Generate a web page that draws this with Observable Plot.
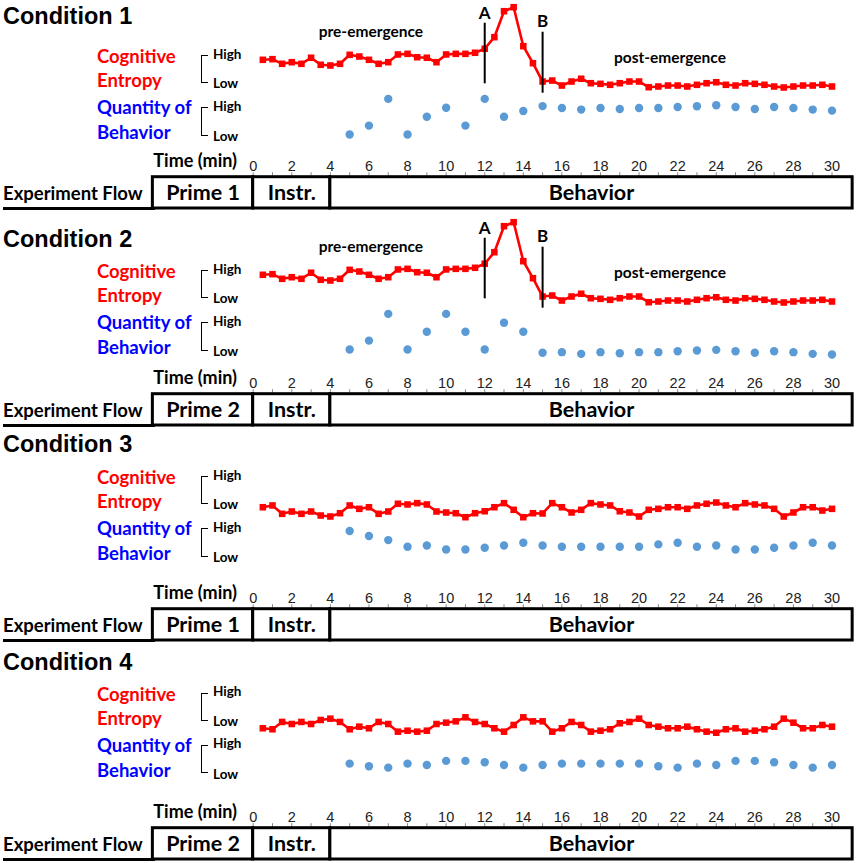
<!DOCTYPE html>
<html>
<head>
<meta charset="utf-8">
<script src="https://cdn.jsdelivr.net/npm/d3@7"></script>
<script src="https://cdn.jsdelivr.net/npm/@observablehq/plot@0.6"></script>
<style>
  html, body { margin: 0; padding: 0; background: #fff; }
  #fig { position: relative; width: 856px; height: 863px; overflow: hidden; background: #fff; font-family: Lato, "Open Sans", sans-serif; }
  #fig svg { position: absolute; left: 0; top: 0; }
  .lab { position: absolute; line-height: 1; white-space: nowrap; transform: translateY(-50%); }
  .brk { position: absolute; border: 1.6px solid #000; border-right: none; width: 7px; box-sizing: border-box; }
</style>
</head>
<body>
<div id="fig"></div>
<script>
// ---------------- data ----------------
const conditionTitles = ["Condition 1", "Condition 2", "Condition 3", "Condition 4"];
const primeLabels = ["Prime 1", "Prime 2", "Prime 1", "Prime 2"];
const hasEmergence = [true, true, false, false];

const entropyTimes = [0.5, 1, 1.5, 2, 2.5, 3, 3.5, 4, 4.5, 5, 5.5, 6, 6.5, 7, 7.5, 8, 8.5, 9, 9.5, 10,
  10.5, 11, 11.5, 12, 12.5, 13, 13.5, 14, 14.5, 15, 15.5, 16, 16.5, 17, 17.5, 18, 18.5, 19, 19.5, 20,
  20.5, 21, 21.5, 22, 22.5, 23, 23.5, 24, 24.5, 25, 25.5, 26, 26.5, 27, 27.5, 28, 28.5, 29, 29.5, 30];
const behaviorTimes = [5, 6, 7, 8, 9, 10, 11, 12, 13, 14, 15, 16, 17, 18, 19, 20, 21, 22, 23, 24, 25, 26, 27, 28, 29, 30];

// Cognitive entropy (Low = 1, High = 4)
const entropyC1 = [3.55, 3.62, 3.10, 3.28, 3.10, 3.78, 2.99, 2.91, 3.10, 4.11,
  3.92, 3.55, 3.10, 3.28, 4.15, 4.22, 3.84, 3.78, 3.28, 4.15,
  4.22, 4.22, 4.34, 4.79, 6.09, 9.01, 9.46, 5.08, 3.17, 1.11,
  1.22, 0.66, 1.11, 1.42, 0.92, 0.85, 0.74, 0.92, 1.11, 1.11,
  0.47, 0.55, 0.66, 0.66, 0.55, 0.74, 0.92, 1.03, 0.74, 0.66,
  0.92, 0.85, 0.74, 0.55, 0.44, 0.55, 0.66, 0.66, 0.74, 0.55];
const entropyC2 = [3.55, 3.62, 3.10, 3.28, 3.10, 3.78, 2.99, 2.91, 3.10, 4.11,
  3.92, 3.55, 3.10, 3.28, 4.15, 4.22, 3.84, 3.78, 3.28, 4.15,
  4.22, 4.22, 4.34, 4.79, 6.09, 9.01, 9.46, 5.08, 3.17, 1.11,
  1.22, 0.66, 1.11, 1.42, 0.92, 0.85, 0.74, 0.92, 1.11, 1.11,
  0.47, 0.55, 0.66, 0.66, 0.55, 0.74, 0.92, 1.03, 0.74, 0.66,
  0.92, 0.85, 0.74, 0.55, 0.44, 0.55, 0.66, 0.66, 0.74, 0.55];
const entropyC3 = [0.58, 0.78, -0.16, 0.10, -0.16, 0.10, -0.35, -0.46, -0.09, 0.78,
  0.40, 0.58, -0.16, 0.10, 0.97, 0.89, 1.04, 0.89, 0.10, -0.01,
  -0.09, -0.54, -0.09, 0.13, 0.58, 1.04, 0.29, -0.54, -0.09, -0.12,
  1.04, 0.58, -0.01, 0.29, 1.04, 0.89, 0.78, 0.13, -0.01, -0.46,
  0.29, 0.40, 0.58, 0.58, 0.40, 0.78, 0.97, 1.11, 0.78, 0.58,
  1.04, 0.89, 0.78, 0.40, -0.46, -0.01, 0.58, 0.58, 0.21, 0.40];
const entropyC4 = [0.07, -0.04, 0.78, 0.55, 0.78, 0.55, 1.00, 1.15, 0.78, -0.04,
  0.25, 0.07, 0.78, 0.55, -0.31, -0.20, -0.31, -0.20, 0.55, 0.70,
  0.85, 1.30, 0.78, 0.55, 0.07, -0.31, 0.44, 1.30, 0.85, 0.85,
  -0.31, 0.07, 0.78, 0.44, -0.31, -0.20, -0.04, 0.63, 0.78, 1.15,
  0.44, 0.25, 0.07, 0.07, 0.25, -0.04, -0.31, -0.43, -0.04, 0.07,
  -0.31, -0.20, -0.04, 0.25, 1.15, 0.70, 0.07, 0.07, 0.44, 0.25];

// Quantity of behavior (Low = 1, High = 4)
const behaviorC1 = [1, 2, 5, 1, 3, 4, 2, 5, 3, 3.64, 4.19, 3.98, 3.80, 3.98, 3.87, 3.98, 3.98, 4.09, 4.17, 4.28, 4.09, 3.87, 4.09, 3.98, 3.80, 3.68];
const behaviorC2 = [1, 2, 5, 1, 3, 5, 3, 1, 4, 3, 0.63, 0.70, 0.51, 0.70, 0.58, 0.70, 0.70, 0.81, 0.89, 0.96, 0.81, 0.63, 0.81, 0.70, 0.51, 0.43];
const behaviorC3 = [3.75, 3.19, 2.73, 1.98, 2.13, 1.68, 1.68, 1.87, 2.13, 2.44, 2.13, 1.98, 1.98, 1.98, 1.98, 1.98, 2.25, 2.44, 1.98, 2.13, 1.68, 1.68, 1.87, 2.13, 2.44, 2.13];
const behaviorC4 = [1.94, 1.64, 1.49, 1.94, 1.79, 2.25, 2.25, 2.10, 1.79, 1.49, 1.79, 1.94, 1.94, 1.94, 1.94, 1.94, 1.64, 1.49, 1.94, 1.79, 2.25, 2.25, 2.10, 1.79, 1.49, 1.79];

// emergence markers (in entropy units)
const eventNames = ["A", "B"];
const eventTimes = [12, 15];
const eventLow = [0.85, -0.2];
const eventHigh = [7.66, 6.65];
const eventLabelLevel = [8.8, 7.9];
const noteNames = ["pre-emergence", "post-emergence"];
const noteTimes = [6.1, 21.6];
const noteLevels = [6.62, 3.78];

// experiment flow
const phaseNames = ["Prime", "Instr.", "Behavior"];
const phaseStart = [-5.2, 0, 4];
const phaseEnd = [0, 4, 31.07];

const xTicks = [0, 2, 4, 6, 8, 10, 12, 14, 16, 18, 20, 22, 24, 26, 28, 30];
const minorTicks = [0, 1, 2, 3, 4, 5, 6, 7, 8, 9, 10, 11, 12, 13, 14, 15, 16, 17, 18, 19, 20, 21, 22, 23, 24, 25, 26, 27, 28, 29, 30];

const entropySeries = [entropyC1, entropyC2, entropyC3, entropyC4];
const behaviorSeries = [behaviorC1, behaviorC2, behaviorC3, behaviorC4];

// ---------------- layout ----------------
const W = 856, H = 863, ML = 252.7, MR = 24.5, K = 8.9;
const panels = [
  {lo: 0, ao: 0, tc: 17.3},
  {lo: 215, ao: 217, tc: 240},
  {lo: 421, ao: 432, tc: 445},
  {lo: 637.5, ao: 651, tc: 663.3}
];
const fig = document.getElementById("fig");

function label(text, x, yc, css) {
  const d = document.createElement("div");
  d.className = "lab";
  d.textContent = text;
  d.style.left = x + "px";
  d.style.top = yc + "px";
  d.style.cssText += css;
  fig.appendChild(d);
  return d;
}
function bracket(top, bottom) {
  const b = document.createElement("div");
  b.className = "brk";
  b.style.left = "200.5px";
  b.style.top = top + "px";
  b.style.height = (bottom - top) + "px";
  fig.appendChild(b);
}
const baseStyle = {background: "transparent", overflow: "visible", fontFamily: "Lato, sans-serif"};

conditionTitles.forEach((title, i) => {
  const p = panels[i];
  const lo = p.lo, ao = p.ao;

  // titles & side labels
  label(title, 3, p.tc, "font-family:'Liberation Sans',Arial,sans-serif;font-weight:bold;font-size:23.5px;color:#000;");
  const redCss = "font-weight:bold;font-size:18.5px;color:#ff0000;";
  const blueCss = "font-weight:bold;font-size:18.5px;color:#0000ff;";
  label("Cognitive", 97, 56 + lo, redCss);
  label("Entropy", 97, 80 + lo, redCss);
  label("Quantity of", 97, 107 + lo, blueCss);
  label("Behavior", 97, 132 + lo, blueCss);
  bracket(55 + lo, 83 + lo);
  bracket(107 + lo, 135.5 + lo);
  const hl = "font-weight:bold;font-size:13.5px;color:#000;";
  label("High", 213, 54.5 + lo, hl);
  label("Low", 213, 84 + lo, hl);
  label("High", 213, 106.5 + lo, hl);
  label("Low", 213, 137 + lo, hl);

  const bt = 176.7 + ao, bb = 208 + ao;
  const tl = label("Time (min)", 0, bt - 16.8, "font-weight:bold;font-size:18px;color:#000;");
  tl.style.left = "auto";
  tl.style.right = (W - 237) + "px";
  label("Experiment Flow", 3, (bt + bb) / 2 + 0.5, "font-weight:bold;font-size:18.5px;color:#000;");
  const line = document.createElement("div");
  line.style.cssText = `position:absolute;left:3px;width:152px;top:${bb - 1.5}px;height:0;border-top:3px solid #000;`;
  fig.appendChild(line);

  // behavior plot
  const beh = behaviorTimes.map((t, j) => ({t, v: behaviorSeries[i][j]}));
  const yb = 134 + lo + K;
  fig.appendChild(Plot.plot({
    width: W, height: H, marginLeft: ML, marginRight: MR, marginTop: 0, marginBottom: 0,
    x: {domain: [0, 30], axis: null},
    y: {domain: [0, 10], range: [yb, yb - 10 * K], axis: null},
    style: baseStyle,
    marks: [Plot.dot(beh, {x: "t", y: "v", r: 4.2, fill: "#5b9bd5", stroke: "none"})]
  }));

  // entropy plot
  const ent = entropyTimes.map((t, j) => ({t, v: entropySeries[i][j]}));
  const ye = 82 + lo + K;
  const marks = [
    Plot.line(ent, {x: "t", y: "v", stroke: "#ff0000", strokeWidth: 2.6}),
    Plot.dot(ent, {x: "t", y: "v", symbol: "square", r: 3.7, fill: "#ff0000", stroke: "none"})
  ];
  if (hasEmergence[i]) {
    const ev = eventNames.map((n, j) => ({n, t: eventTimes[j], lo: eventLow[j], hi: eventHigh[j], l: eventLabelLevel[j]}));
    const notes = noteNames.map((n, j) => ({n, t: noteTimes[j], v: noteLevels[j]}));
    marks.push(
      Plot.ruleX(ev, {x: "t", y1: "lo", y2: "hi", stroke: "#000", strokeWidth: 2}),
      Plot.text(ev, {x: "t", y: "l", text: "n", fontSize: 17, fontWeight: "bold", fill: "#000"}),
      Plot.text(notes, {x: "t", y: "v", text: "n", fontSize: 15.5, fontWeight: "bold", fill: "#000"})
    );
  }
  fig.appendChild(Plot.plot({
    width: W, height: H, marginLeft: ML, marginRight: MR, marginTop: 0, marginBottom: 0,
    x: {domain: [0, 30], axis: null},
    y: {domain: [0, 10], range: [ye, ye - 10 * K], axis: null},
    style: baseStyle,
    marks
  }));

  // axis + experiment flow
  const phases = phaseNames.map((n, j) => ({name: j === 0 ? primeLabels[i] : n, x1: phaseStart[j], x2: phaseEnd[j]}));
  fig.appendChild(Plot.plot({
    width: W, height: H, marginLeft: ML, marginRight: MR, marginTop: bt, marginBottom: H - bb,
    x: {domain: [0, 30]},
    style: {...baseStyle, fontFamily: "'Liberation Sans', Arial, sans-serif"},
    marks: [
      Plot.axisX(minorTicks, {anchor: "top", tickSize: 3.5, tickFormat: () => "", stroke: "#8a8a8a", dy: -2, label: null}),
      Plot.axisX(xTicks, {anchor: "top", tickSize: 0, tickPadding: 6, fontSize: 14.5, fill: "#222", label: null}),
      Plot.rect(phases, {x1: "x1", x2: "x2", fill: "white", stroke: "#000", strokeWidth: 3}),
      Plot.text(phases, {x: d => (d.x1 + d.x2) / 2, text: "name", frameAnchor: "middle", fontSize: 21.5, fontWeight: "bold", fontFamily: "Lato, sans-serif", fill: "#000"})
    ]
  }));
});
</script>
</body>
</html>
